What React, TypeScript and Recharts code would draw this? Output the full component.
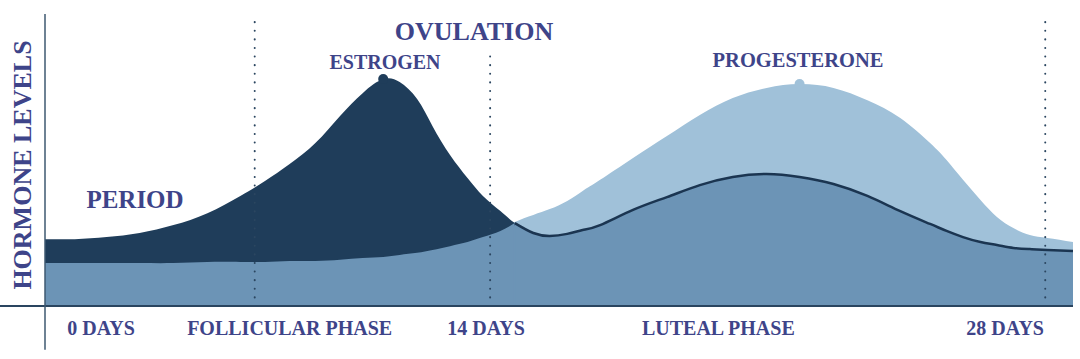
import type { CSSProperties } from 'react';
import {
  ComposedChart, Area, Line, XAxis, YAxis, ReferenceLine, ReferenceDot,
} from 'recharts';

const FONT = "'Liberation Serif', 'DejaVu Serif', serif";
const INK = '#3E4489';
const NAVY = '#1F3D5A';
const MID = '#6C94B6';
const LIGHT = '#A0C1D9';

// position along the cycle, 0..100 (the picture is not linear in days)
const position = [0, 2.9, 6.0, 9.2, 12.5, 15.8, 19.0, 21.4, 23.8, 26.3, 28.7, 30.9, 32.9, 34.5, 36.2, 37.7, 39.4, 41.1, 42.6, 44.3, 45.7, 47.5, 49.1, 50.8, 52.3, 54.0, 57.2, 60.5, 63.7, 66.9, 70.2, 73.4, 76.7, 80.0, 83.2, 86.1, 87.7, 89.3, 91.0, 92.6, 94.2, 95.8, 97.5, 100];
const estrogen = [22.9, 22.9, 23.6, 25.0, 27.7, 31.8, 37.7, 42.8, 48.6, 55.8, 65.1, 72.9, 77.7, 76.7, 70.9, 61.6, 51.7, 43.8, 37.7, 32.5, 28.4, 25.0, 24.0, 24.7, 26.0, 27.7, 32.9, 37.3, 41.4, 44.2, 45.2, 44.2, 41.8, 37.7, 32.5, 28.1, 25.7, 23.6, 21.9, 20.9, 19.9, 19.5, 19.2, 18.8];
const progesterone = [15.1, 15.1, 15.1, 15.1, 15.4, 15.4, 15.8, 15.8, 16.1, 16.1, 16.4, 17.1, 17.5, 18.2, 18.8, 19.9, 20.9, 22.3, 24.3, 26.4, 28.8, 31.2, 33.2, 36.0, 39.4, 43.2, 50.7, 58.2, 65.4, 71.2, 74.7, 76.0, 74.7, 70.5, 64.4, 55.8, 50.0, 43.2, 36.3, 30.5, 26.7, 24.3, 23.3, 21.9];
// base level under the estrogen peak, up to the crossing point
const base = [14.7, 14.7, 14.7, 14.7, 14.7, 15.1, 15.1, 15.1, 15.4, 15.4, 15.8, 16.4, 16.8, 17.5, 18.2, 19.2, 20.5, 21.9, 23.6, 25.7, 28.4];
const CROSS = 20; // index where estrogen meets the base

const tickPositions = [5.45, 23.8, 42.9, 65.5, 93.4];
const tickLabels = ['0 DAYS', 'FOLLICULAR PHASE', '14 DAYS', 'LUTEAL PHASE', '28 DAYS'];

const dividers = [
  { x: 20.4, top: 100 },
  { x: 43.3, top: 87.7 },
  { x: 97.3, top: 100 },
];

const data = position.map((t, i) => ({
  t,
  estrogen: estrogen[i],
  progesterone: progesterone[i],
  base: i <= CROSS ? base[i] : null,
  late: i >= CROSS ? estrogen[i] : null,
}));

function PhaseTick({ x, y, payload }: { x?: number; y?: number; payload?: { value: number } }) {
  const idx = tickPositions.indexOf(payload?.value ?? -1);
  return (
    <text x={x} y={y} dy={21} textAnchor="middle" fill={INK}
      style={{ fontFamily: FONT, fontWeight: 700, fontSize: 20 }}>
      {tickLabels[idx]}
    </text>
  );
}

const labelStyle = (left: number, top: number, size: number): CSSProperties => ({
  position: 'absolute', left, top, fontFamily: FONT, fontWeight: 700,
  fontSize: size, color: INK, lineHeight: 1, whiteSpace: 'nowrap',
  transform: 'translateX(-50%)',
});

export default function App() {
  return (
    <div style={{ position: 'fixed', left: 0, top: 0, width: 1080, height: 359, background: '#fff' }}>
      <ComposedChart width={1080} height={359} data={data}
        margin={{ top: 14, right: 7, left: 45, bottom: 13 }}>
        <XAxis dataKey="t" type="number" domain={[0, 100]} ticks={tickPositions}
          tick={<PhaseTick />} axisLine={false} tickLine={false} height={40} interval={0} />
        <YAxis hide domain={[0, 100]} />
        <Area type="natural" dataKey="progesterone" fill={LIGHT} fillOpacity={1}
          stroke="none" isAnimationActive={false} />
        <Area type="natural" dataKey="estrogen" fill={NAVY} fillOpacity={1}
          stroke="none" isAnimationActive={false} />
        <Area type="natural" dataKey="base" fill={MID} fillOpacity={1}
          stroke="none" isAnimationActive={false} />
        <Area type="natural" dataKey="late" fill={MID} fillOpacity={1}
          stroke="none" isAnimationActive={false} />
        {/* hides the anti-aliased seam where the two mid-blue areas meet */}
        <ReferenceLine segment={[{ x: position[CROSS], y: 0 }, { x: position[CROSS], y: base[CROSS] - 1 }]}
          stroke={MID} strokeWidth={2} />
        <Line type="natural" dataKey="late" stroke="#1B3551" strokeWidth={2.5}
          dot={false} isAnimationActive={false} />
        <ReferenceDot x={32.9} y={77.7} r={5} fill={NAVY} stroke="none" />
        <ReferenceDot x={73.4} y={76.0} r={5} fill={LIGHT} stroke="none" />
        {dividers.map((d) => (
          <ReferenceLine key={d.x} segment={[{ x: d.x, y: 0 }, { x: d.x, y: d.top }]}
            stroke="#2B4660" strokeWidth={2} strokeDasharray="0.1 8.5" strokeLinecap="round"
            ifOverflow="visible" />
        ))}
        <ReferenceLine segment={[{ x: -4.4, y: 0 }, { x: 100, y: 0 }]}
          stroke="#2A4560" strokeWidth={2} ifOverflow="visible" />
        <ReferenceLine segment={[{ x: 0, y: -15 }, { x: 0, y: 100 }]}
          stroke="#3E5870" strokeWidth={1.5} ifOverflow="visible" />
      </ComposedChart>
      <div style={labelStyle(474, 19, 26)}>OVULATION</div>
      <div style={labelStyle(385, 52, 20)}>ESTROGEN</div>
      <div style={labelStyle(798, 50, 20.5)}>PROGESTERONE</div>
      <div style={labelStyle(135, 187, 25)}>PERIOD</div>
      <div style={{
        position: 'absolute', left: 23, top: 165, fontFamily: FONT, fontWeight: 700,
        fontSize: 26, color: INK, lineHeight: 1, whiteSpace: 'nowrap',
        transform: 'translate(-50%, -50%) rotate(-90deg)', transformOrigin: 'center',
      }}>HORMONE LEVELS</div>
    </div>
  );
}
